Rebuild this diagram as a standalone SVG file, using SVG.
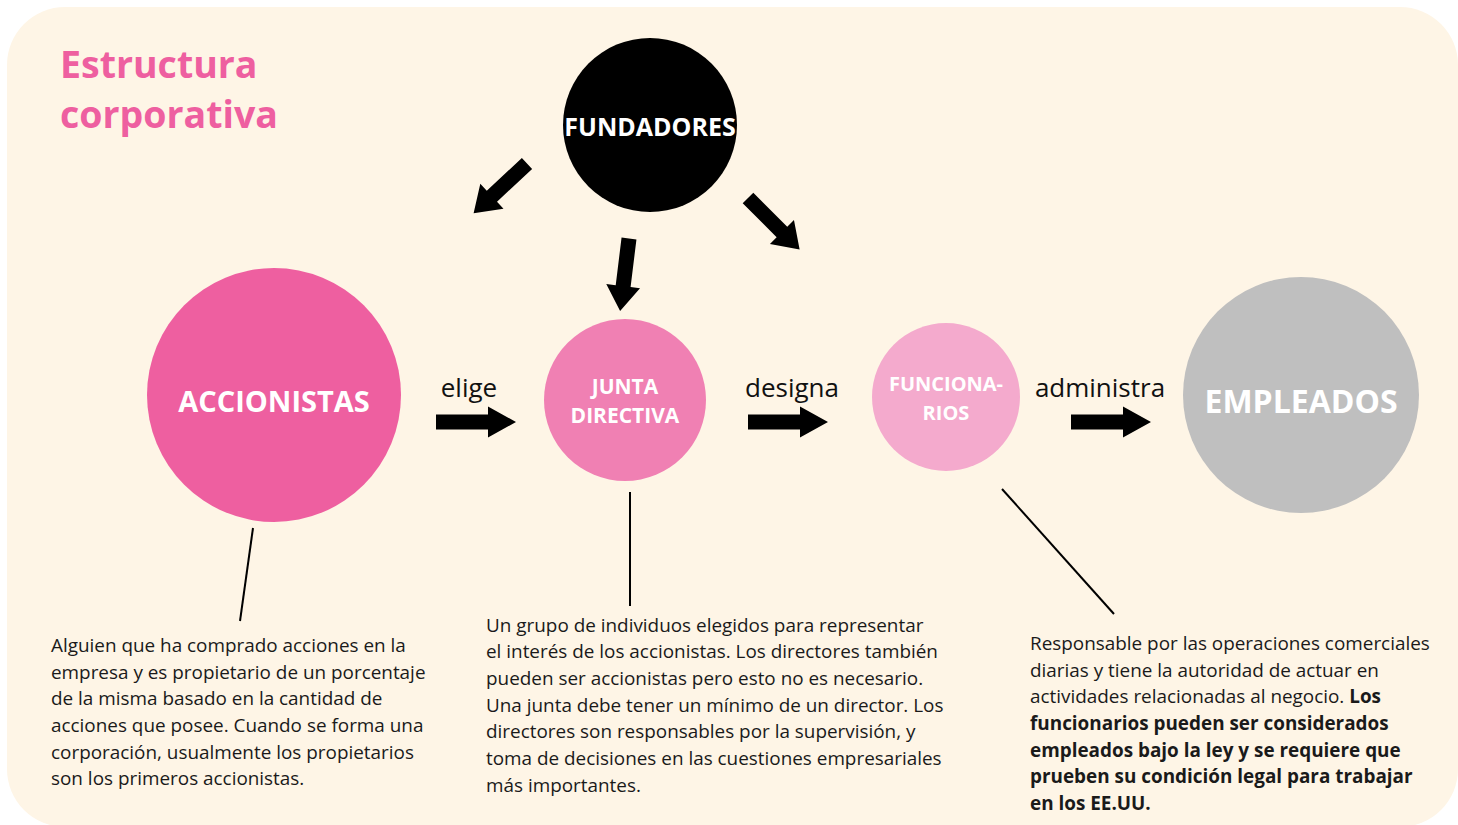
<svg xmlns="http://www.w3.org/2000/svg" width="1458" height="825" viewBox="0 0 1458 825">
<defs>
<style>
.bg{fill:#fef5e6}
.title{font-family:"Open Sans","Liberation Sans",sans-serif;font-weight:700;font-size:37.5px;fill:#ee5fa0}
.nl{font-family:"Open Sans","Liberation Sans",sans-serif;font-weight:700;fill:#ffffff;text-anchor:middle}
.lbl{font-family:"Open Sans","Liberation Sans",sans-serif;font-size:26px;fill:#111111;text-anchor:middle}
.body{font-family:"Open Sans","Liberation Sans",sans-serif;font-size:18.9px;fill:#1a1a1a}
.b{font-weight:700}
.arrow{fill:#000000}
.line{stroke:#000000;stroke-width:2;fill:none}
</style>
<path id="ah" d="M0,-7.5 H52 V-15.5 L80,0 L52,15.5 V7.5 H0 Z"/>
<path id="ad" d="M0,-7.5 H48 V-17 L73,0 L48,17 V7.5 H0 Z"/>
</defs>
<rect class="bg" x="7" y="7" width="1451" height="820" rx="58" ry="58"/>
<text class="title" x="60" y="78">Estructura</text>
<text class="title" x="60" y="128">corporativa</text>

<g id="connectors">
<use href="#ah" class="arrow" transform="translate(436,422)"/>
<use href="#ah" class="arrow" transform="translate(748,422)"/>
<use href="#ah" class="arrow" transform="translate(1071,422)"/>
<use href="#ad" class="arrow" transform="translate(527,163.5) rotate(137)"/>
<use href="#ad" class="arrow" transform="translate(629,238.5) rotate(97)"/>
<use href="#ad" class="arrow" transform="translate(748,198) rotate(45)"/>
<line class="line" x1="253" y1="528" x2="240" y2="621"/>
<line class="line" x1="630" y1="492" x2="630" y2="606"/>
<line class="line" x1="1002" y1="489" x2="1114" y2="614"/>
<text class="lbl" x="469" y="397">elige</text>
<text class="lbl" x="792" y="397">designa</text>
<text class="lbl" x="1100" y="397">administra</text>
</g>

<g id="fundadores">
<circle cx="650" cy="125" r="87" fill="#000000"/>
<text class="nl" x="650" y="136" font-size="25">FUNDADORES</text>
</g>
<g id="accionistas">
<circle cx="274" cy="395" r="127" fill="#ee5fa0"/>
<text class="nl" x="274" y="412" font-size="29">ACCIONISTAS</text>
</g>
<g id="junta">
<circle cx="625" cy="400" r="81" fill="#f080b3"/>
<text class="nl" x="625" y="394" font-size="21">JUNTA</text>
<text class="nl" x="625" y="423" font-size="21">DIRECTIVA</text>
</g>
<g id="funcionarios">
<circle cx="946" cy="397" r="74" fill="#f4aacd"/>
<text class="nl" x="946" y="391" font-size="20">FUNCIONA-</text>
<text class="nl" x="946" y="420" font-size="20">RIOS</text>
</g>
<g id="empleados">
<circle cx="1301" cy="395" r="118" fill="#bfbfbf"/>
<text class="nl" x="1301" y="413" font-size="32" fill="#f7f7f7">EMPLEADOS</text>
</g>

<g id="desc-accionistas">
<text class="body" x="51" y="652">Alguien que ha comprado acciones en la</text>
<text class="body" x="51" y="678.7">empresa y es propietario de un porcentaje</text>
<text class="body" x="51" y="705.3">de la misma basado en la cantidad de</text>
<text class="body" x="51" y="732">acciones que posee. Cuando se forma una</text>
<text class="body" x="51" y="758.7">corporación, usualmente los propietarios</text>
<text class="body" x="51" y="785.3">son los primeros accionistas.</text>
</g>
<g id="desc-junta">
<text class="body" x="486" y="631.5">Un grupo de individuos elegidos para representar</text>
<text class="body" x="486" y="658.2">el interés de los accionistas. Los directores también</text>
<text class="body" x="486" y="684.8">pueden ser accionistas pero esto no es necesario.</text>
<text class="body" x="486" y="711.5">Una junta debe tener un mínimo de un director. Los</text>
<text class="body" x="486" y="738.2">directores son responsables por la supervisión, y</text>
<text class="body" x="486" y="764.8">toma de decisiones en las cuestiones empresariales</text>
<text class="body" x="486" y="791.5">más importantes.</text>
</g>
<g id="desc-funcionarios">
<text class="body" x="1030" y="650">Responsable por las operaciones comerciales</text>
<text class="body" x="1030" y="676.7">diarias y tiene la autoridad de actuar en</text>
<text class="body" x="1030" y="703.3">actividades relacionadas al negocio. <tspan class="b">Los</tspan></text>
<text class="body b" x="1030" y="730">funcionarios pueden ser considerados</text>
<text class="body b" x="1030" y="756.7">empleados bajo la ley y se requiere que</text>
<text class="body b" x="1030" y="783.3">prueben su condición legal para trabajar</text>
<text class="body b" x="1030" y="810">en los EE.UU.</text>
</g>
</svg>
